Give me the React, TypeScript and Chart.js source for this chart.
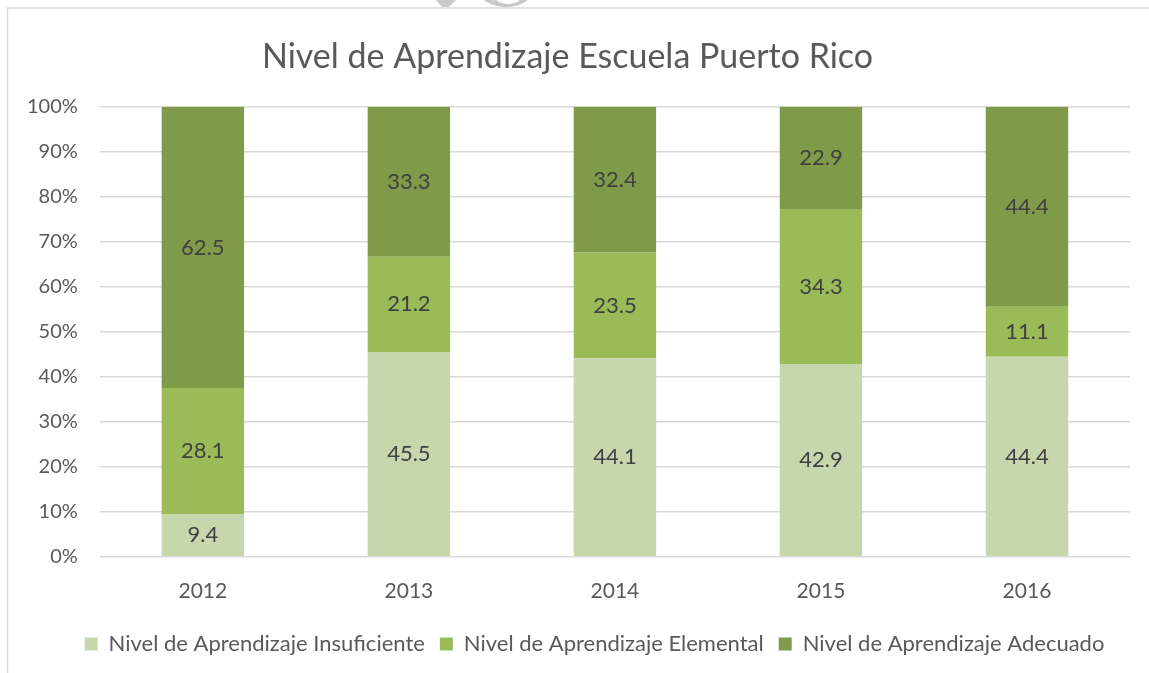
import React, { useEffect, useRef } from "react";
import { Chart, registerables } from "chart.js";

Chart.register(...registerables);

const categories = ["2012", "2013", "2014", "2015", "2016"];
const insuficiente = [9.4, 45.5, 44.1, 42.9, 44.4];
const elemental = [28.1, 21.2, 23.5, 34.3, 11.1];
const adecuado = [62.5, 33.3, 32.4, 22.9, 44.4];
const seriesNames = [
  "Nivel de Aprendizaje Insuficiente",
  "Nivel de Aprendizaje Elemental",
  "Nivel de Aprendizaje Adecuado",
];
const seriesColors = ["#C6D6AD", "#9BBB59", "#7F9A48"];
const titleText = "Nivel de Aprendizaje Escuela Puerto Rico";

const FONT = "Lato, 'Open Sans', sans-serif";

export default function App() {
  const ref = useRef<HTMLCanvasElement | null>(null);

  useEffect(() => {
    const canvas = ref.current;
    if (!canvas) return;
    const raw = [insuficiente, elemental, adecuado];
    const totals = categories.map((_, i) => raw.reduce((s, arr) => s + arr[i], 0));

    const framePlugin = {
      id: "frame",
      beforeDraw(chart: any) {
        const ctx = chart.ctx;
        ctx.save();
        ctx.fillStyle = "#ffffff";
        ctx.fillRect(0, 0, chart.width, chart.height);
        // watermark fragment
        ctx.fillStyle = "#c9c9c9";
        ctx.beginPath();
        ctx.moveTo(436, 0);
        ctx.lineTo(456, 0);
        ctx.lineTo(449, 7);
        ctx.lineTo(442, 7);
        ctx.closePath();
        ctx.fill();
        ctx.beginPath();
        ctx.ellipse(506, -10, 27, 17, 0, 0, Math.PI * 2);
        ctx.ellipse(508, -2, 12, 6, 0, 0, Math.PI * 2);
        ctx.fill("evenodd");
        // frame
        ctx.strokeStyle = "#d9d9d9";
        ctx.lineWidth = 1.5;
        ctx.beginPath();
        ctx.moveTo(7.5, chart.height);
        ctx.lineTo(7.5, 8);
        ctx.lineTo(chart.width, 8);
        ctx.stroke();
        ctx.restore();
      },
    };

    const legendShift = {
      id: "legendShift",
      afterLayout(chart: any) {
        const lg = chart.legend;
        if (lg) {
          lg.left += 27;
          lg.right += 27;
        }
      },
    };

    const labelPlugin = {
      id: "dataLabels",
      afterDatasetsDraw(chart: any) {
        const ctx = chart.ctx;
        ctx.save();
        ctx.font = `22px ${FONT}`;
        ctx.fillStyle = "#404040";
        ctx.textAlign = "center";
        ctx.textBaseline = "middle";
        chart.data.datasets.forEach((ds: any, di: number) => {
          const meta = chart.getDatasetMeta(di);
          meta.data.forEach((el: any, i: number) => {
            const v = raw[di][i];
            ctx.fillText(v.toFixed(1), el.x, (el.y + el.base) / 2);
          });
        });
        ctx.restore();
      },
    };

    const chart = new Chart(canvas, {
      type: "bar",
      data: {
        labels: categories,
        datasets: raw.map((arr, di) => ({
          label: seriesNames[di],
          data: arr.map((v, i) => (v / totals[i]) * 100),
          backgroundColor: seriesColors[di],
          borderWidth: 0,
          categoryPercentage: 1,
          barPercentage: 0.4,
        })),
      },
      options: {
        animation: false,
        responsive: false,
        maintainAspectRatio: false,
        layout: { padding: { top: 37, left: 5, right: 19, bottom: 8 } },
        plugins: {
          title: {
            display: true,
            text: titleText,
            color: "#595959",
            font: { family: FONT, size: 34, weight: "normal" },
            padding: { top: 0, bottom: 29 },
          },
          legend: {
            position: "bottom",
            labels: {
              color: "#595959",
              font: { family: FONT, size: 22 },
              boxWidth: 13,
              boxHeight: 13,
              padding: 15,
            },
          },
          tooltip: { enabled: false },
        },
        scales: {
          x: {
            stacked: true,
            grid: { display: false },
            border: { display: false },
            ticks: { color: "#595959", font: { family: FONT, size: 21 }, padding: 14 },
          },
          y: {
            stacked: true,
            min: 0,
            max: 100,
            grid: { color: "#d9d9d9", lineWidth: 1.5, drawTicks: false },
            border: { display: false },
            ticks: {
              stepSize: 10,
              color: "#595959",
              font: { family: FONT, size: 20 },
              padding: 22,
              callback: (v: any) => `${v}%`,
            },
          },
        },
      },
      plugins: [framePlugin, legendShift, labelPlugin],
    });
    return () => chart.destroy();
  }, []);

  return (
    <div style={{ position: "absolute", left: 0, top: 0, width: 1149, height: 673, background: "#fff" }}>
      <canvas ref={ref} width={1149} height={673} style={{ display: "block" }} />
    </div>
  );
}
